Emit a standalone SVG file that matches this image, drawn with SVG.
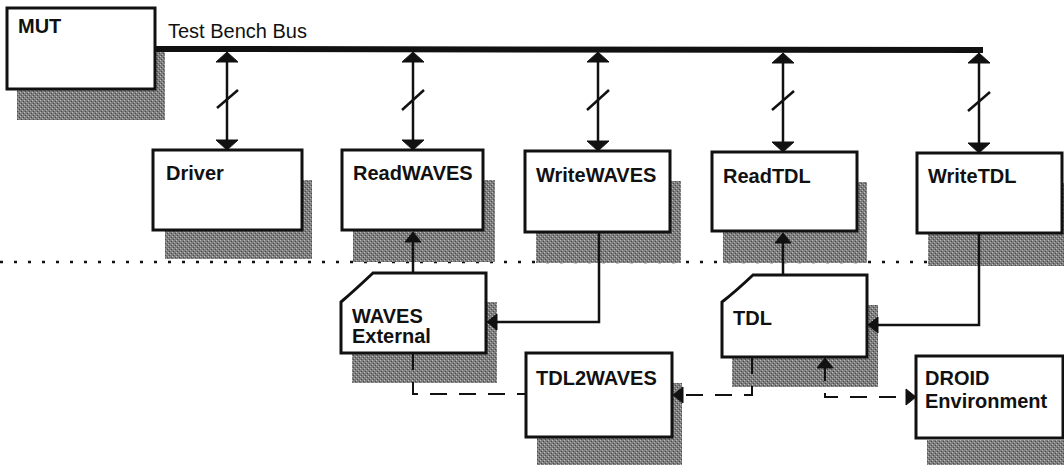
<svg xmlns="http://www.w3.org/2000/svg" width="1064" height="465" viewBox="0 0 1064 465">
<style>
  .box { fill: #ffffff; stroke: #111111; stroke-width: 3; }
  .shadow { fill: url(#dither); }
  .lbl { font-family: "Liberation Sans", Arial, sans-serif; font-weight: bold; font-size: 20px; fill: #111111; }
  .bus-lbl { font-family: "Liberation Sans", Arial, sans-serif; font-size: 20px; fill: #111111; }
  .wire { fill: none; stroke: #111111; stroke-width: 2.5; }
  .dash { fill: none; stroke: #111111; stroke-width: 2; stroke-dasharray: 17 12; }
  .slash { stroke: #111111; stroke-width: 2.5; }
  .bus { stroke: #111111; stroke-width: 6; }
  .dots { stroke: #111111; stroke-width: 2.5; stroke-dasharray: 3 11; }
  .head { fill: #111111; stroke: #111111; stroke-width: 1; stroke-linejoin: miter; }
</style>
<defs>
  <pattern id="dither" width="4" height="4" patternUnits="userSpaceOnUse">
    <rect width="4" height="4" fill="#7e7e7e"/>
    <rect x="0" y="0" width="1" height="1" fill="#c0c0c0"/>
    <rect x="2" y="2" width="1" height="1" fill="#b0b0b0"/>
    <rect x="1" y="3" width="1" height="1" fill="#4a4a4a"/>
    <rect x="3" y="1" width="1" height="1" fill="#4a4a4a"/>
  </pattern>
  <path id="hd" class="head" d="M0,0 L-10,-11 L-10,11 Z"/>
  <path id="hs" class="head" d="M0,0 L-10,-8 L-10,8 Z"/>
</defs>
<rect width="1064" height="465" fill="#ffffff"/>

<line class="dots" x1="0" y1="262" x2="1064" y2="262"/>

<g id="MUT">
  <rect class="shadow" x="17" y="48" width="148" height="72"/>
  <rect class="box" x="7" y="8" width="148" height="81"/>
  <text class="lbl" x="18" y="33">MUT</text>
</g>
<g id="Driver">
  <rect class="shadow" x="165" y="180" width="147" height="79"/>
  <rect class="box" x="153" y="150" width="149" height="80"/>
  <text class="lbl" x="166" y="180">Driver</text>
</g>
<g id="ReadWAVES">
  <rect class="shadow" x="353" y="180" width="142" height="82"/>
  <rect class="box" x="342" y="150" width="141" height="80"/>
  <text class="lbl" x="353" y="180">ReadWAVES</text>
</g>
<g id="WriteWAVES">
  <rect class="shadow" x="536" y="181" width="145" height="82"/>
  <rect class="box" x="525" y="151" width="145" height="81"/>
  <text class="lbl" x="536" y="182">WriteWAVES</text>
</g>
<g id="ReadTDL">
  <rect class="shadow" x="723" y="182" width="144" height="81"/>
  <rect class="box" x="712" y="152" width="145" height="79"/>
  <text class="lbl" x="723" y="183">ReadTDL</text>
</g>
<g id="WriteTDL">
  <rect class="shadow" x="928" y="183" width="145" height="83"/>
  <rect class="box" x="917" y="153" width="145" height="80"/>
  <text class="lbl" x="928" y="183">WriteTDL</text>
</g>
<g id="WAVESExternal">
  <rect class="shadow" x="352" y="302" width="145" height="81"/>
  <path class="box" d="M373,273 L486,273 L486,353 L341,353 L341,302 Q355,290 373,273 Z"/>
  <text class="lbl" x="352" y="323">WAVES</text>
  <text class="lbl" x="352" y="343">External</text>
</g>
<g id="TDL">
  <rect class="shadow" x="732" y="305" width="146" height="82"/>
  <path class="box" d="M753,275 L867,275 L867,357 L722,357 L722,302 Q735,292 753,275 Z"/>
  <text class="lbl" x="733" y="325">TDL</text>
</g>
<g id="TDL2WAVES">
  <rect class="shadow" x="537" y="383" width="145" height="84"/>
  <rect class="box" x="526" y="353" width="146" height="84"/>
  <text class="lbl" x="536" y="385">TDL2WAVES</text>
</g>
<g id="DROID">
  <rect class="shadow" x="927" y="440" width="147" height="30"/>
  <rect class="box" x="916" y="356" width="147" height="82"/>
  <text class="lbl" x="925" y="385">DROID</text>
  <text class="lbl" x="925" y="408">Environment</text>
</g>

<g id="connectors">
  <line class="bus" x1="155" y1="49" x2="983" y2="50"/>
  <text class="bus-lbl" x="168" y="38">Test Bench Bus</text>

  <line class="wire" x1="227" y1="56" x2="227" y2="145"/>
  <line class="slash" x1="217" y1="108" x2="238" y2="90"/>
  <use href="#hd" transform="translate(227,52) rotate(-90)"/>
  <use href="#hd" transform="translate(227,150) rotate(90)"/>

  <line class="wire" x1="413" y1="56" x2="413" y2="145"/>
  <line class="slash" x1="402" y1="110" x2="424" y2="90"/>
  <use href="#hd" transform="translate(413,52) rotate(-90)"/>
  <use href="#hd" transform="translate(413,150) rotate(90)"/>

  <line class="wire" x1="598" y1="56" x2="598" y2="146"/>
  <line class="slash" x1="587" y1="110" x2="609" y2="90"/>
  <use href="#hd" transform="translate(598,52) rotate(-90)"/>
  <use href="#hd" transform="translate(598,151) rotate(90)"/>

  <line class="wire" x1="783" y1="56" x2="783" y2="147"/>
  <line class="slash" x1="772" y1="110" x2="794" y2="91"/>
  <use href="#hd" transform="translate(783,53) rotate(-90)"/>
  <use href="#hd" transform="translate(783,152) rotate(90)"/>

  <line class="wire" x1="979" y1="56" x2="979" y2="148"/>
  <line class="slash" x1="968" y1="111" x2="990" y2="92"/>
  <use href="#hd" transform="translate(979,53) rotate(-90)"/>
  <use href="#hd" transform="translate(979,153) rotate(90)"/>

  <line class="wire" x1="413" y1="273" x2="413" y2="236"/>
  <use href="#hs" transform="translate(413,232) rotate(-90)"/>
  <polyline class="wire" points="599,232 599,322 492,322"/>
  <use href="#hs" transform="translate(487,322) rotate(180)"/>
  <line class="wire" x1="783" y1="275" x2="783" y2="237"/>
  <use href="#hs" transform="translate(783,233) rotate(-90)"/>
  <polyline class="wire" points="979,233 979,325 873,325"/>
  <use href="#hs" transform="translate(868,325) rotate(180)"/>

  <polyline class="dash" points="413,353 413,394 526,394"/>
  <polyline class="dash" points="752,357 752,395 680,395"/>
  <use href="#hs" transform="translate(673,395) rotate(180)"/>
  <polyline class="dash" points="825,364 825,397 910,397"/>
  <use href="#hs" transform="translate(825,358) rotate(-90)"/>
  <use href="#hs" transform="translate(916,397)"/>
</g>
</svg>
